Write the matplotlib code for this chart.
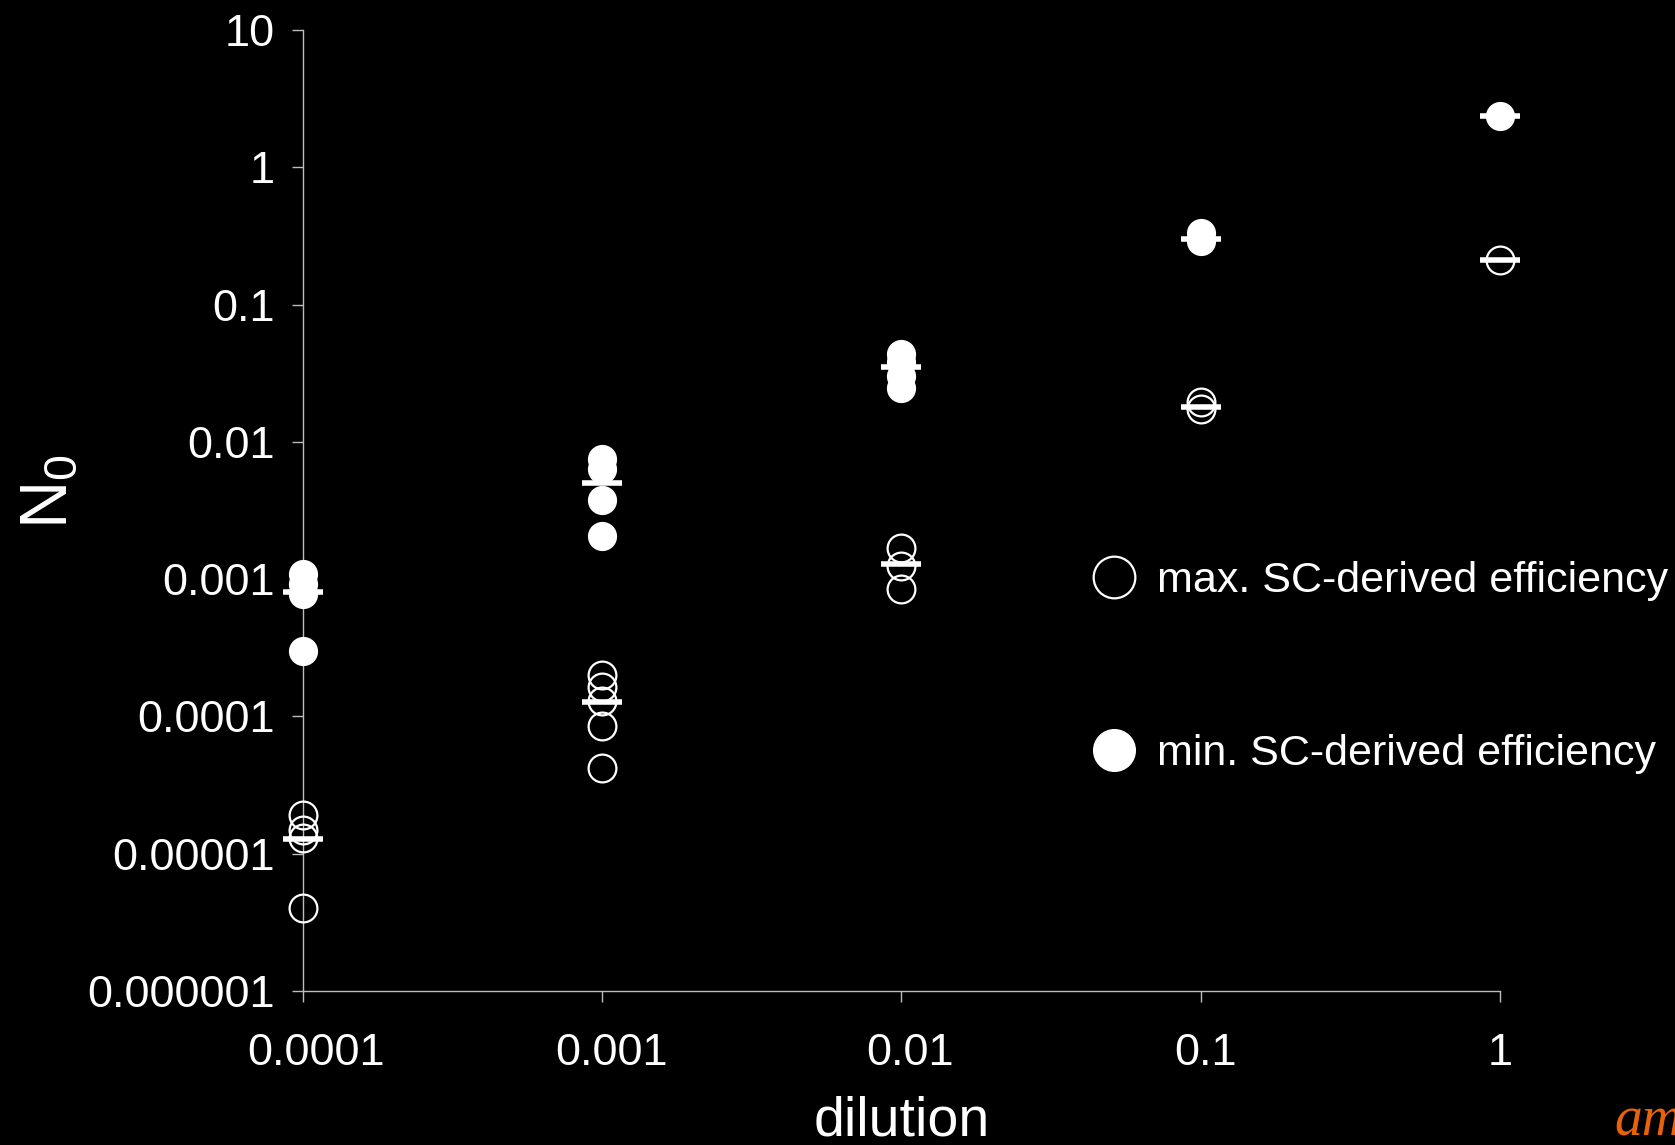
import numpy as np
import matplotlib
matplotlib.use("Agg")
import matplotlib.pyplot as plt
import matplotlib.transforms as mtransforms
from matplotlib.lines import Line2D

# ==========================================
# DATA
# ==========================================

dilutions = [0.0001, 0.001, 0.01, 0.1, 1]

# max. SC-derived efficiency (open circles)
max_eff = [
    [1.9e-5, 1.5e-5, 1.3e-5, 4.0e-6],
    [2.0e-4, 1.65e-4, 1.3e-4, 8.5e-5, 4.2e-5],
    [1.7e-3, 1.25e-3, 8.5e-4],
    [1.95e-2, 1.73e-2],
    [0.21],
]
max_mean = [1.28e-5, 1.27e-4, 1.29e-3, 1.8e-2, 0.21]

# min. SC-derived efficiency (filled circles)
min_eff = [
    [1.09e-3, 9.2e-4, 7.75e-4, 3.0e-4],
    [7.5e-3, 6.3e-3, 3.8e-3, 2.06e-3],
    [4.37e-2, 3.8e-2, 3.0e-2, 2.48e-2],
    [0.33, 0.29],
    [2.35],
]
min_mean = [8.0e-4, 5.0e-3, 3.5e-2, 0.30, 2.35]

y_ticks = [1e-6, 1e-5, 1e-4, 1e-3, 1e-2, 1e-1, 1, 10]
y_labels = ["0.000001", "0.00001", "0.0001", "0.001", "0.01", "0.1", "1", "10"]
x_labels = ["0.0001", "0.001", "0.01", "0.1", "1"]

legend_labels = ["max. SC-derived efficiency", "min. SC-derived efficiency"]

# ==========================================
# STYLE
# ==========================================

plt.rcParams["font.family"] = ["Liberation Sans", "DejaVu Sans"]
plt.rcParams["mathtext.default"] = "regular"

AXIS_COLOR = "#bdbdbd"
MS = 20
BAR_MS = 29

fig = plt.figure(figsize=(16.75, 11.45), dpi=100, facecolor="black")
ax = fig.add_axes([0.1809, 0.1345, 0.7146, 0.8393])
ax.set_facecolor("black")

ax.set_xscale("log")
ax.set_yscale("log")
ax.set_xlim(1e-4, 1)
ax.set_ylim(1e-6, 10)

# ==========================================
# POINTS
# ==========================================

for x, vals in zip(dilutions, max_eff):
    ax.plot([x] * len(vals), vals, ls="none", marker="o", ms=MS,
            mfc="none", mec="white", mew=1.6, clip_on=False, zorder=3)

for x, vals in zip(dilutions, min_eff):
    ax.plot([x] * len(vals), vals, ls="none", marker="o", ms=MS,
            mfc="white", mec="white", mew=1, clip_on=False, zorder=3)

# mean bars
ax.plot(dilutions, max_mean, ls="none", marker="_", ms=BAR_MS,
        mew=4, color="white", clip_on=False, zorder=4)
ax.plot(dilutions, min_mean, ls="none", marker="_", ms=BAR_MS,
        mew=4, color="white", clip_on=False, zorder=4)

# ==========================================
# AXES
# ==========================================

for side in ["top", "right"]:
    ax.spines[side].set_visible(False)
for side in ["left", "bottom"]:
    ax.spines[side].set_color(AXIS_COLOR)
    ax.spines[side].set_linewidth(1)

ax.set_yticks(y_ticks)
ax.set_yticklabels(y_labels)
ax.set_xticks(dilutions)
ax.set_xticklabels(x_labels)
ax.minorticks_off()

ax.tick_params(axis="both", colors=AXIS_COLOR, length=8, width=1,
               labelsize=32.5, labelcolor="white")
ax.tick_params(axis="y", pad=12)
ax.tick_params(axis="x", pad=22)

# x tick labels sit a little right of their ticks in the original
shift_pt = [9.5, 6.5, 6.5, 3.2, 0]
for lab, dx in zip(ax.get_xticklabels(), shift_pt):
    lab.set_transform(lab.get_transform() +
                      mtransforms.ScaledTranslation(dx / 72, 0, fig.dpi_scale_trans))

ax.set_xlabel("dilution", fontsize=40, color="white", labelpad=16)
ax.set_ylabel(r"N$_0$", fontsize=48, color="white")
ax.yaxis.set_label_coords(-0.186, 0.52)

# ==========================================
# LEGEND
# ==========================================

handles = [
    Line2D([], [], ls="none", marker="o", ms=30, mfc="none", mec="white", mew=1.6),
    Line2D([], [], ls="none", marker="o", ms=30, mfc="white", mec="white"),
]
leg = ax.legend(handles, legend_labels, loc="center left",
                bbox_to_anchor=(0.652, 0.417), bbox_transform=fig.transFigure,
                frameon=False, fontsize=31, labelspacing=3.1,
                handlelength=1.0, handletextpad=0.5, borderpad=0,
                borderaxespad=0, numpoints=1)
for t in leg.get_texts():
    t.set_color("white")

fig.text(1614 / 1675, 1 - 1135 / 1145, "am", ha="left", va="baseline",
         fontsize=40, style="italic", family="Liberation Serif", color="#e8620a")

plt.savefig("out.png", dpi=100, facecolor="black")
